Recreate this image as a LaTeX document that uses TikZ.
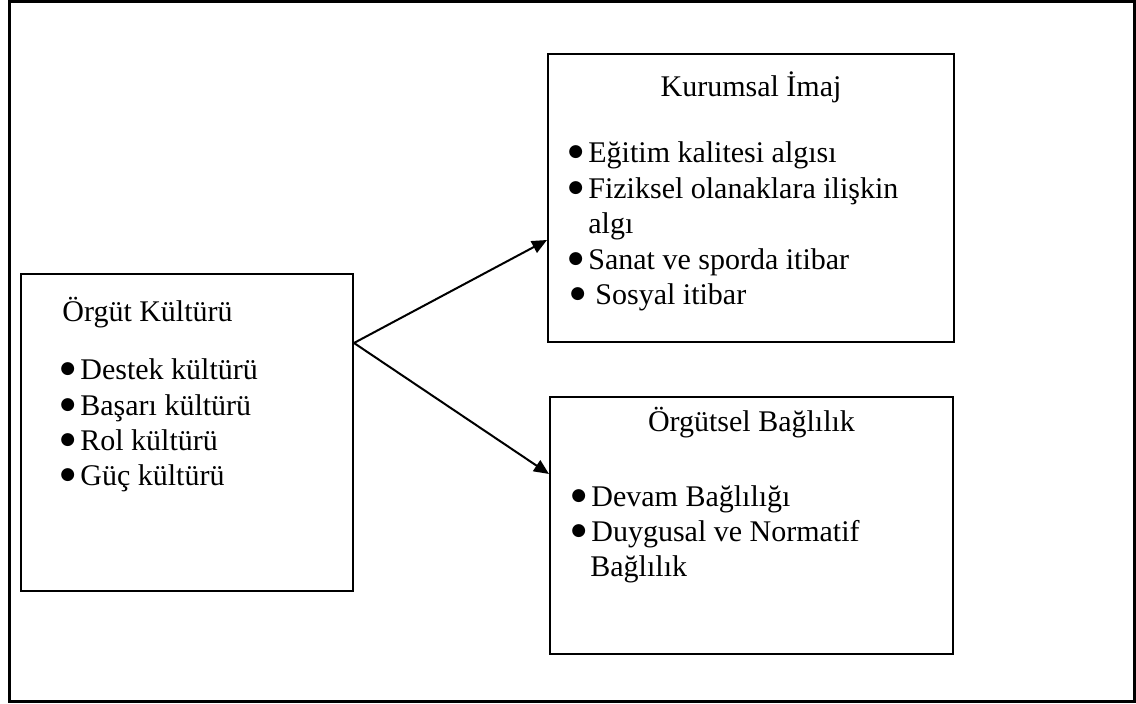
\documentclass[tikz,border=0pt]{standalone}
\usepackage{fontspec}
\setmainfont{Liberation Serif}
\newfontfamily\dejavu{DejaVu Sans}
\usetikzlibrary{arrows.meta,calc}
\newcommand{\nokta}{\raisebox{3pt}{\dejavu\fontsize{8.5pt}{8.5pt}\selectfont ●}}
\newcommand{\blt}{\makebox[10pt][l]{\nokta}}
\tikzset{
  kutu/.style={draw,line width=1pt,inner sep=0pt},
  yazi/.style={inner sep=0pt,font=\fontsize{15pt}{17.75pt}\selectfont},
  ok/.style={line width=1pt,-{Triangle[length=7.5pt,width=6.5pt]}}
}
\begin{document}
\begin{tikzpicture}[x=0.5pt,y=-0.5pt]
  \useasboundingbox (0,0) rectangle (1136,704);
  \draw[line width=1.5pt] (9,2) rectangle (1134,702);
  % kutular
  \node[kutu,minimum width=166pt,minimum height=158.5pt] (kultur) at (187,432.5) {};
  \node[kutu,minimum width=203pt,minimum height=144pt] (imaj) at (751,198) {};
  \node[kutu,minimum width=201.5pt,minimum height=128.5pt] (bag) at (751.5,525.5) {};
  % orgut kulturu
  \node[yazi,anchor=base west] (kbas) at (62,322) {Örgüt Kültürü};
  \node[yazi,anchor=base west] (k1) at (60,380) {\blt Destek kültürü};
  \node[yazi,anchor=base west] (k2) at (60,415.5) {\blt Başarı kültürü};
  \node[yazi,anchor=base west] (k3) at (60,451) {\blt Rol kültürü};
  \node[yazi,anchor=base west] (k4) at (60,486) {\blt Güç kültürü};
  % kurumsal imaj
  \node[yazi,anchor=base] (ibas) at (751,97) {Kurumsal İmaj};
  \node[yazi,anchor=base west] (i1) at (568,163) {\blt Eğitim kalitesi algısı};
  \node[yazi,anchor=base west] (i2) at (568,199) {\blt Fiziksel olanaklara ilişkin};
  \node[yazi,anchor=base west] (i2b) at (588,234) {algı};
  \node[yazi,anchor=base west] (i3) at (568,270) {\blt Sanat ve sporda itibar};
  \node[yazi,anchor=base west] (i4) at (570,305) {\makebox[12.5pt][l]{\nokta}Sosyal itibar};
  % orgutsel baglilik
  \node[yazi,anchor=base] (bbas) at (751.5,432) {Örgütsel Bağlılık};
  \node[yazi,anchor=base west] (b1) at (571,507) {\blt Devam Bağlılığı};
  \node[yazi,anchor=base west] (b2) at (571,542) {\blt Duygusal ve Normatif};
  \node[yazi,anchor=base west] (b2b) at (590,577) {Bağlılık};
  % oklar
  \coordinate (catal) at ($(kultur.east)+(0,-89.5)$);
  \draw[ok] (catal) -- ($(imaj.west)+(0,42)$);
  \draw[ok] (catal) -- ($(bag.west)+(0,-51.5)$);
\end{tikzpicture}
\end{document}
